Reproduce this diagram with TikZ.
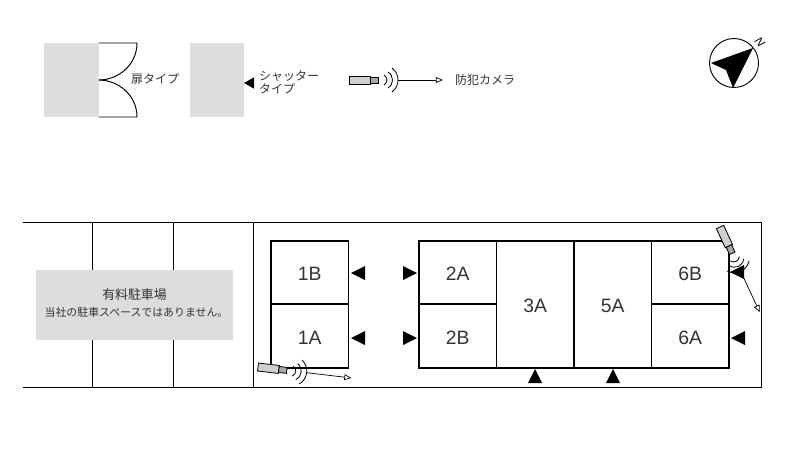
\documentclass[tikz,border=0pt]{standalone}
\usepackage{fontspec}
\setmainfont{Liberation Sans}
\newfontfamily\jpfont{Noto Sans CJK JP}
\usetikzlibrary{arrows.meta,shapes.geometric}
\definecolor{lotgray}{HTML}{DCDDDD}
\definecolor{inkgray}{HTML}{333333}
\begin{document}
\begin{tikzpicture}[x=0.03cm, y=-0.03cm,
    room/.style={draw, line width=1.5pt, inner sep=0, outer sep=0, minimum width=2.325cm, minimum height=1.9cm, text height=14pt, font=\fontsize{16.5}{16.5}\selectfont, text=inkgray},
    tallroom/.style={room, minimum height=3.8cm},
    shutter/.style={isosceles triangle, isosceles triangle apex angle=56, isosceles triangle stretches, fill=black, inner sep=0, outer sep=0, minimum height=0.42cm, minimum width=0.42cm, anchor=apex},
    graybox/.style={fill=lotgray, inner sep=0, outer sep=0, align=center, text=inkgray},
    jplabel/.style={inner sep=0, align=left, text=inkgray, font=\jpfont\fontsize{10.2}{11}\selectfont},
    camarrow/.style={-{Triangle[open, length=6pt, width=5pt]}, line width=0.6pt},
    pics/camera/.style={code={
        \draw[line width=0.7pt, fill=lightgray!75] (0,-4) rectangle (21,4);
        \draw[line width=0.7pt, fill=gray!70] (21,-3) rectangle (29,3);
        \foreach \a/\b/\h in {35/38/5, 39/44/8, 43/50/12}
            \draw[line width=0.7pt] (\a,-\h) .. controls (\b+1,-\h/2) and (\b+1,\h/2) .. (\a,\h);
        \coordinate (-tail) at (49,0);
        \coordinate (-tip) at (94,0);
    }}]
\useasboundingbox (0,0) rectangle (800,468);

% legend
\node[graybox, minimum width=1.65cm, minimum height=2.22cm] (doorbox) at (71.5,80) {};
\draw[line width=0.8pt] (doorbox.north east) -- ++(38,0) .. controls ++(0,22) and (118,80) .. (doorbox.east);
\draw[line width=0.8pt] (doorbox.south east) -- ++(38,0) .. controls ++(0,-22) and (118,80) .. (doorbox.east);
\node[jplabel, right] (doorlabel) at (131,79) {扉タイプ};
\node[graybox, minimum width=1.62cm, minimum height=2.22cm] (shutterbox) at (217,80) {};
\node[shutter, shape border rotate=180, minimum height=0.3cm, minimum width=0.34cm] (shuttermark) at (244,83) {};
\node[jplabel, right] (shutterlabel) at (259,82) {シャッター\\タイプ};

\pic (camlegend) at (349,80) {camera};
\draw[camarrow] (camlegend-tail) -- (camlegend-tip);
\node[jplabel, right] (camlabel) at (455,80) {防犯カメラ};

% compass
\node[draw, circle, line width=0.8pt, inner sep=0, minimum size=1.47cm] (compass) at (734,63) {};
\fill (753,48) -- (711,63) -- (726,70) -- (733,88) -- cycle;
\node[rotate=-50, inner sep=0, font=\itshape\fontsize{10}{10}\selectfont] (north) at (760,42) {N};

% site
\draw[line width=0.6pt] (23,222) -- (761,222) -- (761,387) -- (23,387);
\draw[line width=0.6pt] (253,222) -- (253,387);
\draw[line width=0.6pt] (92,222) -- (92,387);
\draw[line width=0.6pt] (173,222) -- (173,387);
\node[graybox, minimum width=5.91cm, minimum height=2.1cm] (parking) at (134.5,305) {};
\node[graybox, fill=none, font=\jpfont\fontsize{11}{11}\selectfont] (parkinga) at (134.5,295) {有料駐車場};
\node[graybox, fill=none, font=\jpfont\fontsize{9.3}{9}\selectfont] (parkingb) at (136.5,312) {当社の駐車スペースではありません。};

% rooms
\node[room, below right] (r1B) at (271,241) {1B};
\node[room, below right] (r1A) at (r1B.south west) {1A};
\node[room, below right] (r2A) at (419,241) {2A};
\node[room, below right] (r2B) at (r2A.south west) {2B};
\node[tallroom, below right] (r3A) at (r2A.north east) {3A};
\node[tallroom, below right] (r5A) at (r3A.north east) {5A};
\node[room, below right] (r6B) at (r5A.north east) {6B};
\node[room, below right] (r6A) at (r6B.south west) {6A};

% shutters
\node[shutter, shape border rotate=180] (s1B) at (351,273) {};
\node[shutter, shape border rotate=180] (s1A) at (351,338) {};
\node[shutter] (s2A) at (417,273) {};
\node[shutter] (s2B) at (417,338) {};
\node[shutter, shape border rotate=90] (s3A) at (535,369) {};
\node[shutter, shape border rotate=90] (s5A) at (613,369) {};
\node[shutter, shape border rotate=180] (s6B) at (730,272) {};
\node[shutter, shape border rotate=180] (s6A) at (731,338) {};

% cameras
\pic[rotate=-6.7] (camA) at (258,367) {camera};
\draw[camarrow] (camA-tail) -- (camA-tip);
\pic[rotate=-65] (camB) at (720,227) {camera};
\draw[camarrow] (camB-tail) -- (camB-tip);
\end{tikzpicture}
\end{document}
